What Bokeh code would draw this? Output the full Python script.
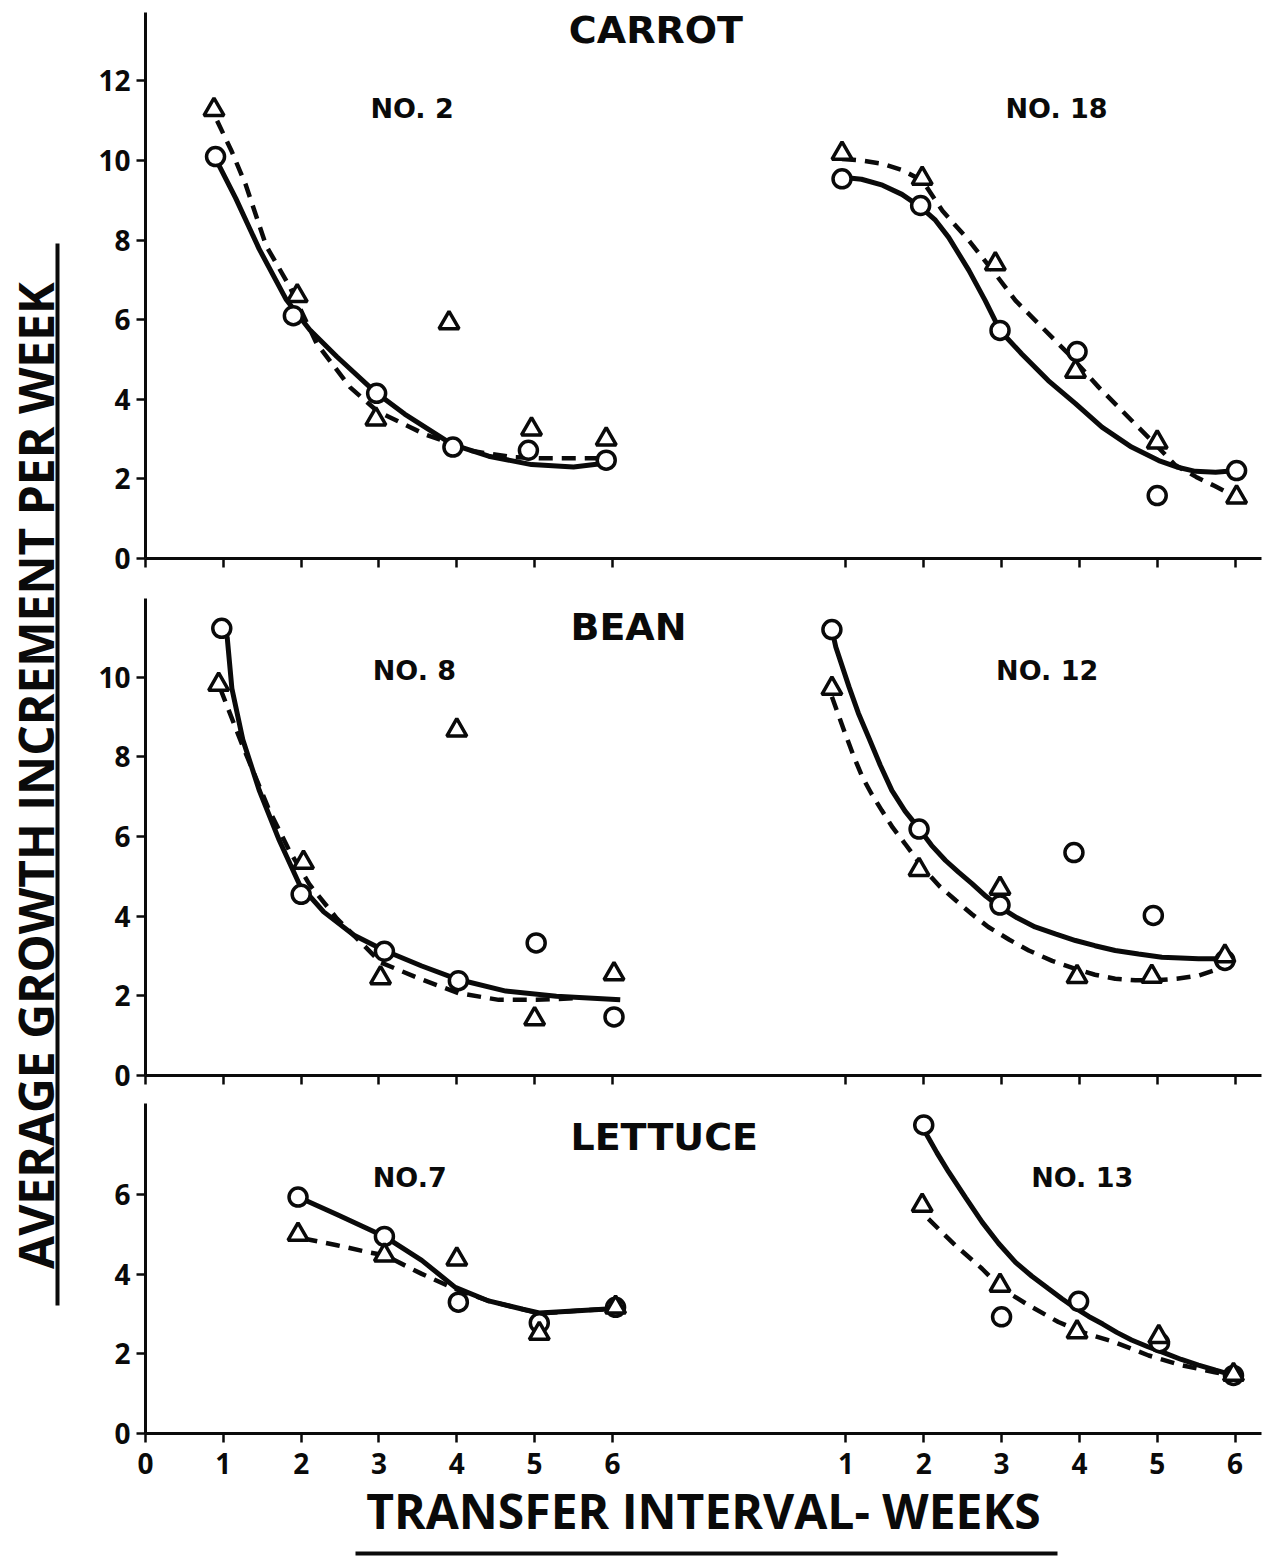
import numpy as np
from bokeh.plotting import figure
from bokeh.models import Range1d, FixedTicker
from bokeh.layouts import column, row
from bokeh.embed import file_html
from bokeh.resources import INLINE
from bokeh.core.properties import value

# ---------------- data ----------------
crops = ["CARROT", "BEAN", "LETTUCE"]
strains = [["NO. 2", "NO. 18"], ["NO. 8", "NO. 12"], ["NO.7", "NO. 13"]]
x_tick_values = [0, 1, 2, 3, 4, 5, 6]
x_tick_values_right = [1, 2, 3, 4, 5, 6]
x_tick_labels = ["0", "1", "2", "3", "4", "5", "6"]
x_tick_labels_right = ["1", "2", "3", "4", "5", "6"]
y_ticks_carrot = [0, 2, 4, 6, 8, 10, 12]
y_ticks_bean = [0, 2, 4, 6, 8, 10]
y_ticks_lettuce = [0, 2, 4, 6]

# Carrot No. 2
c2_circ_x = [0.9, 1.9, 2.97, 3.95, 4.92, 5.92]
c2_circ_y = [10.1, 6.1, 4.15, 2.8, 2.72, 2.47]
c2_tri_x = [0.88, 1.95, 2.96, 3.9, 4.96, 5.92]
c2_tri_y = [11.28, 6.6, 3.5, 5.92, 3.25, 3.0]
c2_solid_x = [0.9, 1.16, 1.46, 1.81, 2.11, 2.46, 2.96, 3.33, 3.94, 4.41, 4.96, 5.5, 5.93]
c2_solid_y = [10.05, 9.05, 7.78, 6.5, 5.75, 5.07, 4.17, 3.63, 2.87, 2.57, 2.36, 2.3, 2.4]
c2_dash_x = [0.92, 1.11, 1.29, 1.55, 1.85, 2.2, 2.63, 2.98, 3.59, 4.2, 4.7, 5.06, 5.58, 5.85]
c2_dash_y = [11.0, 10.22, 9.38, 7.86, 6.84, 5.4, 4.3, 3.7, 3.12, 2.7, 2.55, 2.52, 2.52, 2.52]

# Carrot No. 18
c18_circ_x = [0.95, 1.96, 2.98, 3.97, 5.0, 6.02]
c18_circ_y = [9.54, 8.87, 5.73, 5.2, 1.58, 2.21]
c18_tri_x = [0.95, 1.98, 2.92, 3.95, 5.0, 6.02]
c18_tri_y = [10.18, 9.55, 7.4, 4.7, 2.92, 1.54]
c18_solid_x = [0.95, 1.2, 1.47, 1.72, 1.96, 2.15, 2.32, 2.58, 2.79, 2.98, 3.26, 3.6, 3.95, 4.29, 4.67, 5.02, 5.25, 5.49, 5.75, 6.02]
c18_solid_y = [9.58, 9.53, 9.38, 9.15, 8.83, 8.5, 8.07, 7.24, 6.48, 5.73, 5.14, 4.47, 3.89, 3.3, 2.8, 2.46, 2.3, 2.19, 2.17, 2.21]
c18_dash_x = [0.95, 1.2, 1.47, 1.72, 1.98, 2.24, 2.58, 2.92, 3.18, 3.52, 3.86, 4.25, 4.63, 4.97, 5.23, 5.5, 5.74, 6.02]
c18_dash_y = [10.04, 10.0, 9.92, 9.76, 9.5, 8.74, 7.99, 7.15, 6.48, 5.81, 5.14, 4.3, 3.55, 2.88, 2.35, 2.05, 1.82, 1.54]

# Bean No. 8
b8_circ_x = [0.98, 2.0, 3.07, 4.02, 5.02, 6.02]
b8_circ_y = [11.23, 4.55, 3.12, 2.38, 3.33, 1.47]
b8_tri_x = [0.94, 2.03, 3.02, 4.0, 5.0, 6.02]
b8_tri_y = [9.82, 5.35, 2.45, 8.67, 1.42, 2.55]
b8_solid_x = [1.0, 1.05, 1.11, 1.25, 1.46, 1.72, 1.98, 2.29, 2.68, 3.07, 3.55, 4.02, 4.63, 5.28, 6.1]
b8_solid_y = [11.2, 11.0, 9.72, 8.44, 7.17, 5.9, 4.79, 4.11, 3.52, 3.14, 2.75, 2.41, 2.12, 1.99, 1.9]
b8_dash_x = [0.96, 1.25, 1.59, 1.85, 2.11, 2.46, 2.81, 3.02, 3.55, 4.02, 4.54, 5.02, 5.5]
b8_dash_y = [9.72, 8.27, 6.66, 5.64, 4.79, 3.94, 3.26, 2.84, 2.41, 2.07, 1.9, 1.9, 1.94]

# Bean No. 12
b12_circ_x = [0.82, 1.94, 2.98, 3.93, 4.95, 5.87]
b12_circ_y = [11.2, 6.19, 4.28, 5.6, 4.02, 2.89]
b12_tri_x = [0.82, 1.94, 2.98, 3.97, 4.93, 5.87]
b12_tri_y = [9.72, 5.17, 4.7, 2.48, 2.49, 3.0]
b12_solid_x = [0.82, 0.87, 1.04, 1.16, 1.29, 1.44, 1.59, 1.76, 1.94, 2.1, 2.28, 2.45, 2.62, 2.8, 2.98, 3.2, 3.43, 3.7, 3.95, 4.2, 4.46, 4.76, 5.06, 5.3, 5.53, 5.87]
b12_solid_y = [11.2, 10.76, 9.76, 9.1, 8.5, 7.8, 7.16, 6.64, 6.2, 5.78, 5.4, 5.1, 4.82, 4.5, 4.23, 3.96, 3.73, 3.55, 3.39, 3.26, 3.14, 3.05, 2.97, 2.95, 2.93, 2.93]
b12_dash_x = [0.82, 0.99, 1.1, 1.21, 1.33, 1.46, 1.6, 1.76, 1.9, 2.02, 2.2, 2.41, 2.62, 2.83, 3.1, 3.35, 3.65, 3.95, 4.2, 4.46, 4.72, 4.97, 5.25, 5.53, 5.72, 5.87]
b12_dash_y = [9.51, 8.59, 8.02, 7.5, 7.07, 6.66, 6.23, 5.82, 5.45, 5.15, 4.76, 4.4, 4.05, 3.73, 3.41, 3.14, 2.88, 2.68, 2.53, 2.43, 2.39, 2.39, 2.43, 2.51, 2.63, 2.81]

# Lettuce No. 7
l7_circ_x = [1.96, 3.07, 4.02, 5.06, 6.04]
l7_circ_y = [5.94, 4.95, 3.3, 2.78, 3.17]
l7_tri_x = [1.96, 3.07, 4.0, 5.06, 6.04]
l7_tri_y = [5.0, 4.48, 4.38, 2.51, 3.17]
l7_solid_x = [1.96, 2.46, 3.07, 3.55, 3.98, 4.41, 4.85, 5.06, 5.5, 6.04]
l7_solid_y = [5.94, 5.5, 4.95, 4.35, 3.67, 3.33, 3.12, 3.03, 3.08, 3.14]
l7_dash_x = [2.03, 2.46, 2.85, 3.07, 3.55, 3.98, 4.41, 4.85, 5.06, 5.5, 6.04]
l7_dash_y = [4.9, 4.73, 4.56, 4.48, 4.01, 3.63, 3.33, 3.12, 3.01, 3.08, 3.14]

# Lettuce No. 13
l13_circ_x = [2.0, 3.0, 3.99, 5.03, 5.98]
l13_circ_y = [7.75, 2.93, 3.32, 2.28, 1.46]
l13_tri_x = [1.98, 2.98, 3.97, 5.02, 5.98]
l13_tri_y = [5.73, 3.72, 2.55, 2.43, 1.48]
l13_solid_x = [2.02, 2.17, 2.32, 2.54, 2.75, 2.96, 3.18, 3.39, 3.6, 3.78, 3.95, 4.12, 4.3, 4.48, 4.67, 4.88, 5.1, 5.31, 5.53, 5.75, 5.98]
l13_solid_y = [7.57, 7.05, 6.57, 5.92, 5.31, 4.78, 4.3, 3.95, 3.64, 3.38, 3.15, 2.94, 2.75, 2.54, 2.35, 2.18, 2.02, 1.86, 1.72, 1.59, 1.46]
l13_dash_x = [2.06, 2.41, 2.75, 3.0, 3.35, 3.73, 4.03, 4.46, 4.89, 5.32, 5.74, 5.98]
l13_dash_y = [5.39, 4.72, 4.14, 3.64, 3.22, 2.8, 2.55, 2.29, 1.96, 1.71, 1.54, 1.46]

# ---------------- layout / style ----------------
OFFSET = 8.0          # horizontal shift of the right-hand sub-panel on the shared axis
INK = "#0a0a0a"
PANEL_W = 1183
XMAX = 14.34

def make_panel(h, bt, bb, ymax, yticks, show_xlabels):
    p = figure(width=PANEL_W, height=h, output_backend="svg", toolbar_location=None,
               x_range=Range1d(0, XMAX), y_range=Range1d(0, ymax),
               min_border_left=65, min_border_right=2, min_border_top=bt,
               min_border_bottom=bb, background_fill_color="white",
               border_fill_color="white")
    p.grid.visible = False
    p.outline_line_color = None
    ticks = list(x_tick_values) + [v + OFFSET for v in x_tick_values_right]
    p.xaxis.ticker = FixedTicker(ticks=ticks, minor_ticks=[])
    p.yaxis.ticker = FixedTicker(ticks=yticks, minor_ticks=[])
    for ax in (p.xaxis, p.yaxis):
        ax.axis_line_color = INK
        ax.axis_line_width = 3
        ax.major_tick_line_color = INK
        ax.major_tick_line_width = 2.5
        ax.major_tick_out = 9
        ax.major_tick_in = 0
        ax.minor_tick_line_color = None
        ax.major_label_text_font = "Open Sans"
        ax.major_label_text_font_style = "bold"
        ax.major_label_text_color = INK
        ax.major_label_text_font_size = "28px"
    p.yaxis.major_label_standoff = 6
    if show_xlabels:
        ov = {}
        for v, t in zip(x_tick_values, x_tick_labels):
            ov[v] = t
        for v, t in zip(x_tick_values_right, x_tick_labels_right):
            ov[v + OFFSET] = t
        p.xaxis.major_label_overrides = ov
        p.xaxis.major_label_standoff = 10
    else:
        p.xaxis.major_label_text_color = None
        p.xaxis.major_label_text_font_size = "1px"
        p.xaxis.major_label_standoff = 0
    return p

def draw(p, sx, sy, dx, dy, cx, cy, tx, ty, shift):
    p.line([v + shift for v in sx], sy, line_color=INK, line_width=5)
    p.line([v + shift for v in dx], dy, line_color=INK, line_width=4.5, line_dash="14 9")
    p.scatter([v + shift for v in cx], cy, marker="circle", size=18, line_color=INK,
              line_width=3.5, fill_color="white")
    p.scatter([v + shift for v in tx], ty, marker="triangle", size=20, line_color=INK,
              line_width=3.5, fill_color="white")

def labels(p, title_xy, sub_xy, title, subs):
    p.text(x=[title_xy[0]], y=[title_xy[1]], text=[title], text_font=value("DejaVu Sans"),
           text_font_style="bold", text_font_size="38px", text_color=INK,
           text_align="left", text_baseline="middle")
    p.text(x=[sub_xy[0][0], sub_xy[1][0]], y=[sub_xy[0][1], sub_xy[1][1]], text=subs,
           text_font=value("DejaVu Sans"), text_font_style="bold", text_font_size="27px",
           text_color=INK, text_align="left", text_baseline="middle")

H_TOP, H_MID, H_BOT = 588, 507, 450

top = make_panel(H_TOP, 12, 30, 13.72, y_ticks_carrot, False)
draw(top, c2_solid_x, c2_solid_y, c2_dash_x, c2_dash_y, c2_circ_x, c2_circ_y, c2_tri_x, c2_tri_y, 0)
draw(top, c18_solid_x, c18_solid_y, c18_dash_x, c18_dash_y, c18_circ_x, c18_circ_y, c18_tri_x, c18_tri_y, OFFSET)
labels(top, (5.44, 13.27), [(2.89, 11.31), (3.05 + OFFSET, 11.31)], crops[0], strains[0])

mid = make_panel(H_MID, 10, 20, 11.98, y_ticks_bean, False)
draw(mid, b8_solid_x, b8_solid_y, b8_dash_x, b8_dash_y, b8_circ_x, b8_circ_y, b8_tri_x, b8_tri_y, 0)
draw(mid, b12_solid_x, b12_solid_y, b12_dash_x, b12_dash_y, b12_circ_x, b12_circ_y, b12_tri_x, b12_tri_y, OFFSET)
labels(mid, (5.46, 11.26), [(2.92, 10.18), (2.93 + OFFSET, 10.18)], crops[1], strains[1])

bot = make_panel(H_BOT, 8, 112, 8.29, y_ticks_lettuce, True)
draw(bot, l7_solid_x, l7_solid_y, l7_dash_x, l7_dash_y, l7_circ_x, l7_circ_y, l7_tri_x, l7_tri_y, 0)
draw(bot, l13_solid_x, l13_solid_y, l13_dash_x, l13_dash_y, l13_circ_x, l13_circ_y, l13_tri_x, l13_tri_y, OFFSET)
labels(bot, (5.46, 7.44), [(2.92, 6.43), (3.38 + OFFSET, 6.43)], crops[2], strains[2])
bot.xaxis.axis_label = "TRANSFER INTERVAL- WEEKS"
bot.xaxis.axis_label_text_font = "Open Sans"
bot.xaxis.axis_label_text_font_style = "bold"
bot.xaxis.axis_label_text_font_size = "48px"
bot.xaxis.axis_label_text_color = INK
bot.xaxis.axis_label_standoff = 1

def blank(w, h):
    p = figure(width=w, height=h, output_backend="svg", toolbar_location=None,
               x_range=Range1d(0, w), y_range=Range1d(h, 0),
               x_axis_location=None, y_axis_location=None, min_border=0,
               background_fill_color="white", border_fill_color="white")
    p.grid.visible = False
    p.outline_line_color = None
    return p

ylab_h = H_TOP + H_MID + H_BOT
ylab = blank(80, ylab_h)
ylab.text(x=[35], y=[775], text=["AVERAGE GROWTH INCREMENT PER WEEK"], angle=np.pi / 2,
          text_font=value("Open Sans"), text_font_style="bold", text_font_size="48px",
          text_color=INK, text_align="center", text_baseline="middle")
ylab.segment(x0=[57], y0=[243], x1=[57], y1=[1305], line_color=INK, line_width=4)

foot = blank(1263, 15)
foot.segment(x0=[355], y0=[8], x1=[1057], y1=[8], line_color=INK, line_width=4)

layout = column(row(ylab, column(top, mid, bot, spacing=0), spacing=0), foot, spacing=0)
open("out.html", "w").write(file_html(layout, INLINE))
